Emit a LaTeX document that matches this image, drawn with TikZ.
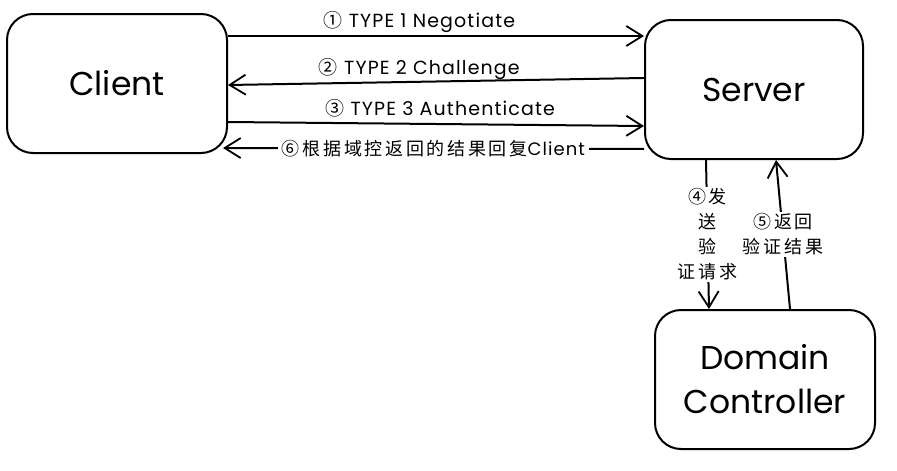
\documentclass[tikz,border=0pt]{standalone}
\usepackage{fontspec}
\setmainfont{Poppins}
\newfontfamily\lblfont[LetterSpace=6]{Poppins}
\newfontfamily\cjk[LetterSpace=15]{Noto Sans CJK SC}
\usetikzlibrary{arrows.meta}
\begin{document}
\begin{tikzpicture}[x=1pt,y=-1pt,
  box/.style={draw, line width=2pt, rounded corners=26pt, minimum width=220pt, minimum height=139pt,
    font=\fontsize{33}{44}\selectfont, align=center, inner sep=0pt},
  conn/.style={line width=2pt, -{Straight Barb[length=16pt,width=20pt,line width=1.8pt]}},
  lbl/.style={font=\lblfont\fontsize{19}{22}\selectfont, inner sep=1pt},
  clbl/.style={font=\cjk\fontsize{18}{25}\selectfont, fill=white, align=center, inner sep=2pt}
]
\useasboundingbox[fill=white] (0,0) rectangle (897,471);
\node[box] (client) at (117,83.5) {Client};
\node[box, minimum width=218pt] (server) at (754,89.5) {Server};
\node[box] (dc) at (765,379.5) {Domain\\Controller};

\draw[conn] ([yshift=47.5pt]client.east) -- node[lbl, above=1pt, pos=0.46] {{\cjk ①} TYPE 1 Negotiate} ([yshift=53.5pt]server.west);
\draw[conn] ([yshift=11.5pt]server.west) -- node[lbl, above=0pt, pos=0.54] {{\cjk ②} TYPE 2 Challenge} ([yshift=-1.5pt]client.east);
\draw[conn] ([yshift=-38.5pt]client.east) -- node[lbl, above=5pt, pos=0.51] {{\cjk ③} TYPE 3 Authenticate} ([yshift=-36.5pt]server.west);
\draw[conn] ([yshift=-59.5pt]server.west) -- node[clbl, inner xsep=4pt] {⑥根据域控返回的结果回复{\lblfont\fontsize{18}{25}\selectfont Client}} ([xshift=-5pt,yshift=-64.5pt]client.east);

\draw[conn] ([xshift=-48pt]server.south) -- node[clbl] {④发\\送\\验\\证请求} ([xshift=-56pt]dc.north);
\draw[conn] ([xshift=25pt]dc.north) -- node[clbl] {⑤返回\\验证结果} ([xshift=22pt]server.south);
\end{tikzpicture}
\end{document}
